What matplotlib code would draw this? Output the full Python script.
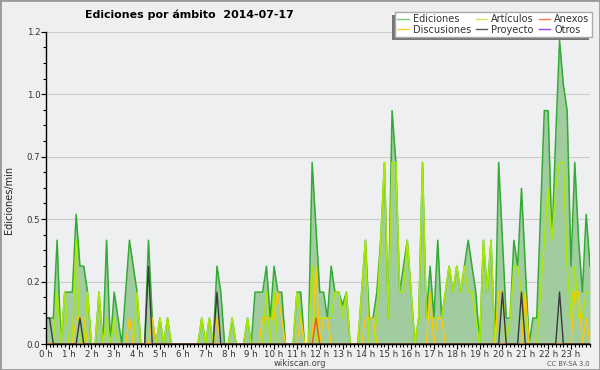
import numpy as np
import matplotlib
matplotlib.use("Agg")
import matplotlib.pyplot as plt
from matplotlib.lines import Line2D
from matplotlib.patches import Rectangle
from matplotlib.ticker import FixedLocator, MultipleLocator

# edits per 10-minute bin (144 bins, 0 h .. 23:50)
ediciones = [1, 1, 1, 4, 0, 2, 2, 2, 5, 3, 3, 2, 0, 0, 2, 0, 4, 0, 2, 1, 0, 2, 4, 3,
             2, 0, 0, 4, 1, 0, 1, 0, 1, 0, 0, 0, 0, 0, 0, 0, 0, 1, 0, 1, 0, 3, 2, 0,
             0, 1, 0, 0, 0, 1, 0, 2, 2, 2, 3, 1, 3, 2, 2, 0, 0, 0, 2, 2, 0, 0, 7, 4.5,
             2, 2, 1, 3, 2, 2, 1.5, 2, 0, 0, 0, 2, 4, 1, 1, 2, 4, 7, 1, 9, 7, 2, 3, 4,
             2, 0, 1, 7, 1, 3, 1, 4, 1, 2, 3, 2, 3, 2, 3, 4, 3, 2, 0, 4, 2, 4, 0, 7,
             4, 1, 1, 4, 3, 6, 3, 0, 1, 1, 5, 9, 9, 4, 8, 11.7, 10, 9, 3, 7, 4, 2, 5, 3]
articulos = [0, 0, 0, 2, 0, 2, 0, 0, 4, 0, 0, 2, 0, 0, 2, 0, 1, 0, 1, 0, 0, 0, 0, 0,
             2, 0, 0, 0, 0, 0, 1, 0, 1, 0, 0, 0, 0, 0, 0, 0, 0, 1, 0, 1, 0, 0, 0, 0,
             0, 1, 0, 0, 0, 1, 0, 0, 0, 0, 2, 0, 2, 0, 0, 0, 0, 0, 2, 1, 0, 0, 3, 0,
             1, 1, 1, 1, 2, 2, 1, 2, 0, 0, 0, 2, 4, 0, 0, 1, 4, 7, 1, 7, 7, 2, 2, 4,
             2, 0, 1, 7, 1, 1, 1, 1, 1, 2, 3, 2, 3, 2, 3, 2, 2, 1, 0, 4, 2, 4, 0, 2,
             2, 0, 1, 3, 3, 2, 1, 0, 0, 0, 2, 4, 6, 4, 6, 7, 7, 3, 1, 3, 1, 1, 2, 2]
discusiones = [0, 0, 0, 0, 0, 0, 0, 0, 1, 1, 1, 0, 0, 0, 0, 0, 0, 0, 0, 0, 0, 0, 1, 0,
               0, 0, 0, 0, 1, 0, 0, 0, 0, 0, 0, 0, 0, 0, 0, 0, 0, 0, 0, 0, 0, 1, 0, 0,
               0, 0, 0, 0, 0, 0, 0, 0, 0, 1, 1, 1, 1, 2, 1, 0, 0, 0, 0, 1, 0, 0, 0, 3,
               0, 1, 1, 0, 0, 0, 0, 0, 0, 0, 0, 0, 1, 1, 1, 0, 0, 0, 0, 0, 0, 0, 0, 0,
               0, 0, 0, 0, 0, 2, 0, 1, 1, 0, 0, 0, 0, 0, 0, 0, 0, 0, 0, 0, 0, 0, 0, 2,
               2, 0, 0, 0, 0, 0, 2, 0, 0, 0, 0, 0, 0, 0, 0, 0, 0, 0, 0, 2, 2, 0, 1, 0]
proyecto = [1, 1, 0, 0, 0, 0, 0, 0, 0, 1, 0, 0, 0, 0, 0, 0, 0, 0, 0, 0, 0, 0, 0, 0,
            0, 0, 0, 3, 0, 0, 0, 0, 0, 0, 0, 0, 0, 0, 0, 0, 0, 0, 0, 0, 0, 2, 0, 0,
            0, 0, 0, 0, 0, 0, 0, 0, 0, 0, 0, 0, 0, 0, 0, 0, 0, 0, 0, 0, 0, 0, 0, 0,
            0, 0, 0, 0, 0, 0, 0, 0, 0, 0, 0, 0, 0, 0, 0, 0, 0, 0, 0, 0, 0, 0, 0, 0,
            0, 0, 0, 0, 0, 0, 0, 0, 0, 0, 0, 0, 0, 0, 0, 0, 0, 0, 0, 0, 0, 0, 0, 0,
            2, 0, 0, 0, 0, 2, 0, 0, 0, 0, 0, 0, 0, 0, 0, 2, 0, 0, 0, 0, 0, 0, 0, 0]
anexos = [0] * 71 + [1] + [0] * 72
otros = [0] * 144

STEP = 0.1038  # edits/min for one edit in a bin (measured on the y axis)

ytick_vals = [0.0, 0.25, 0.5, 0.75, 1.0, 1.25]
ytick_labels = ["0.0", "0.2", "0.5", "0.7", "1.0", "1.2"]
hour_labels = [f"{h} h" for h in range(24)]

W, H = 600, 370
fig = plt.figure(figsize=(W / 100, H / 100), dpi=100, facecolor="#efefef")
ax = fig.add_axes([45.7 / W, 1 - 344 / H, (590 - 45.7) / W, (344 - 31.7) / H])
ax.set_facecolor("#eeeff1")

x = np.arange(len(ediciones))
ed = np.array(ediciones) * STEP
ax.fill_between(x, ed, color="#a0cca0", lw=0)
ax.plot(x, ed, color="#33aa33", lw=1.1)
ax.plot(x, np.array(articulos) * STEP, color="#aaea00", lw=1.1)
ax.plot(x, np.array(discusiones) * STEP, color="#ffc800", lw=1.0)
ax.plot(x, np.array(otros) * STEP, color="#9944ee", lw=1.0)
ax.plot(x, np.array(anexos) * STEP, color="#ee5522", lw=1.0)
ax.plot(x, np.array(proyecto) * STEP, color="#3a3a3a", lw=1.0)

ax.set_xlim(0, len(ediciones) - 1)
ax.set_ylim(0, 1.25)
ax.yaxis.set_major_locator(FixedLocator(ytick_vals))
ax.set_yticklabels(ytick_labels)
ax.yaxis.set_minor_locator(MultipleLocator(0.0625))
ax.xaxis.set_major_locator(FixedLocator(np.arange(24) * 6))
ax.set_xticklabels(hour_labels)
ax.xaxis.set_minor_locator(MultipleLocator(1))
ax.yaxis.grid(True, color="#cccccc", lw=0.8)
ax.set_axisbelow(True)
for s in ("top", "right"):
    ax.spines[s].set_visible(False)
for s in ("left", "bottom"):
    ax.spines[s].set_linewidth(1.0)
ax.tick_params(which="major", direction="out", length=3.5, width=0.8,
               labelsize=6.2, labelcolor="#333333", pad=0.5)
ax.tick_params(which="minor", direction="out", length=2.5, width=0.8)

fig.text(85 / W, 1 - 15 / H, "Ediciones por ámbito  2014-07-17",
         fontsize=7.9, weight="bold", ha="left", va="center")
fig.text(9 / W, 1 - 200 / H, "Ediciones/min", rotation=90, fontsize=7,
         ha="center", va="center", color="#222222")
fig.text(300 / W, 1 - 364 / H, "wikiscan.org", fontsize=6,
         ha="center", va="center", color="#444444")
fig.text(590 / W, 1 - 363.5 / H, "CC BY-SA 3.0", fontsize=4.8,
         ha="right", va="center", color="#555555")

names = ["Ediciones", "Discusiones", "Artículos", "Proyecto", "Anexos", "Otros"]
colors = ["#77cc77", "#ffcc33", "#ccee55", "#555555", "#ff7744", "#9944ee"]
handles = [Line2D([], [], color=c, lw=1.0) for c in colors]
leg = fig.legend(handles, names, ncol=3, loc="upper right",
                 bbox_to_anchor=(592 / W, 1 - 11.7 / H),
                 bbox_transform=fig.transFigure, fontsize=7, frameon=True,
                 fancybox=False, edgecolor="#aaaaaa", facecolor="white",
                 framealpha=1, handlelength=1.2, handletextpad=0.4,
                 columnspacing=0.5, labelspacing=0.05, borderpad=0.25,
                 borderaxespad=0)
for t in leg.get_texts():
    t.set_color("#333333")
leg.set_zorder(5)

fig.canvas.draw()
bb = leg.get_window_extent()
fig.patches.append(Rectangle((bb.x0 - 3, bb.y0 - 3), bb.width, bb.height,
                             transform=None, facecolor="#777777",
                             edgecolor="none", zorder=4))
fig.patches.append(Rectangle((0, 0), 1, 1, transform=fig.transFigure,
                             fill=False, edgecolor="#999999", lw=2, zorder=10))

fig.savefig("out.png", dpi=100, facecolor=fig.get_facecolor())
